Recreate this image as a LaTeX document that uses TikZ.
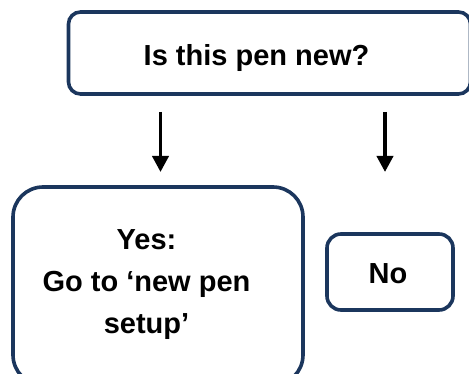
\documentclass[tikz,border=0pt]{standalone}
\usepackage{fontspec}
\setmainfont{Liberation Sans}
\usetikzlibrary{arrows.meta}
\definecolor{boxblue}{HTML}{1B365D}
\tikzset{
  x=1pt,y=-1pt,
  flowbox/.style={draw=boxblue,line width=3.6pt,fill=white,inner sep=0pt},
  flowtext/.style={text=black,inner sep=0pt,align=center,font=\fontsize{29}{42}\selectfont\bfseries},
  flowarrow/.style={draw=black,line width=3.8pt,-{Triangle[length=16pt,width=16pt]}},
}
\begin{document}
\begin{tikzpicture}
\useasboundingbox (0,0) rectangle (469,374);
\clip (0,0) rectangle (469,374);
\node[flowbox,rounded corners=12pt,minimum width=402pt,minimum height=82pt] (question) at (269.5,53) {};
\node[flowtext] (questiontext) at (256.5,58) {Is this pen new?};
\node[flowbox,rounded corners=30pt,minimum width=290pt,minimum height=198pt] (yes) at (158,286) {};
\node[flowtext] (yestext) at (146.5,284.5) {Yes:\\Go to ‘new pen\\setup’};
\node[flowbox,rounded corners=14pt,minimum width=126pt,minimum height=76pt] (no) at (390,272) {};
\node[flowtext] (notext) at (388,274) {No};
\coordinate (yesstart) at (160.5,112);
\coordinate (yesend) at (160.5,172);
\coordinate (nostart) at (385,112);
\coordinate (noend) at (385,172);
\draw[flowarrow] (yesstart) -- (yesend);
\draw[flowarrow] (nostart) -- (noend);
\end{tikzpicture}
\end{document}
